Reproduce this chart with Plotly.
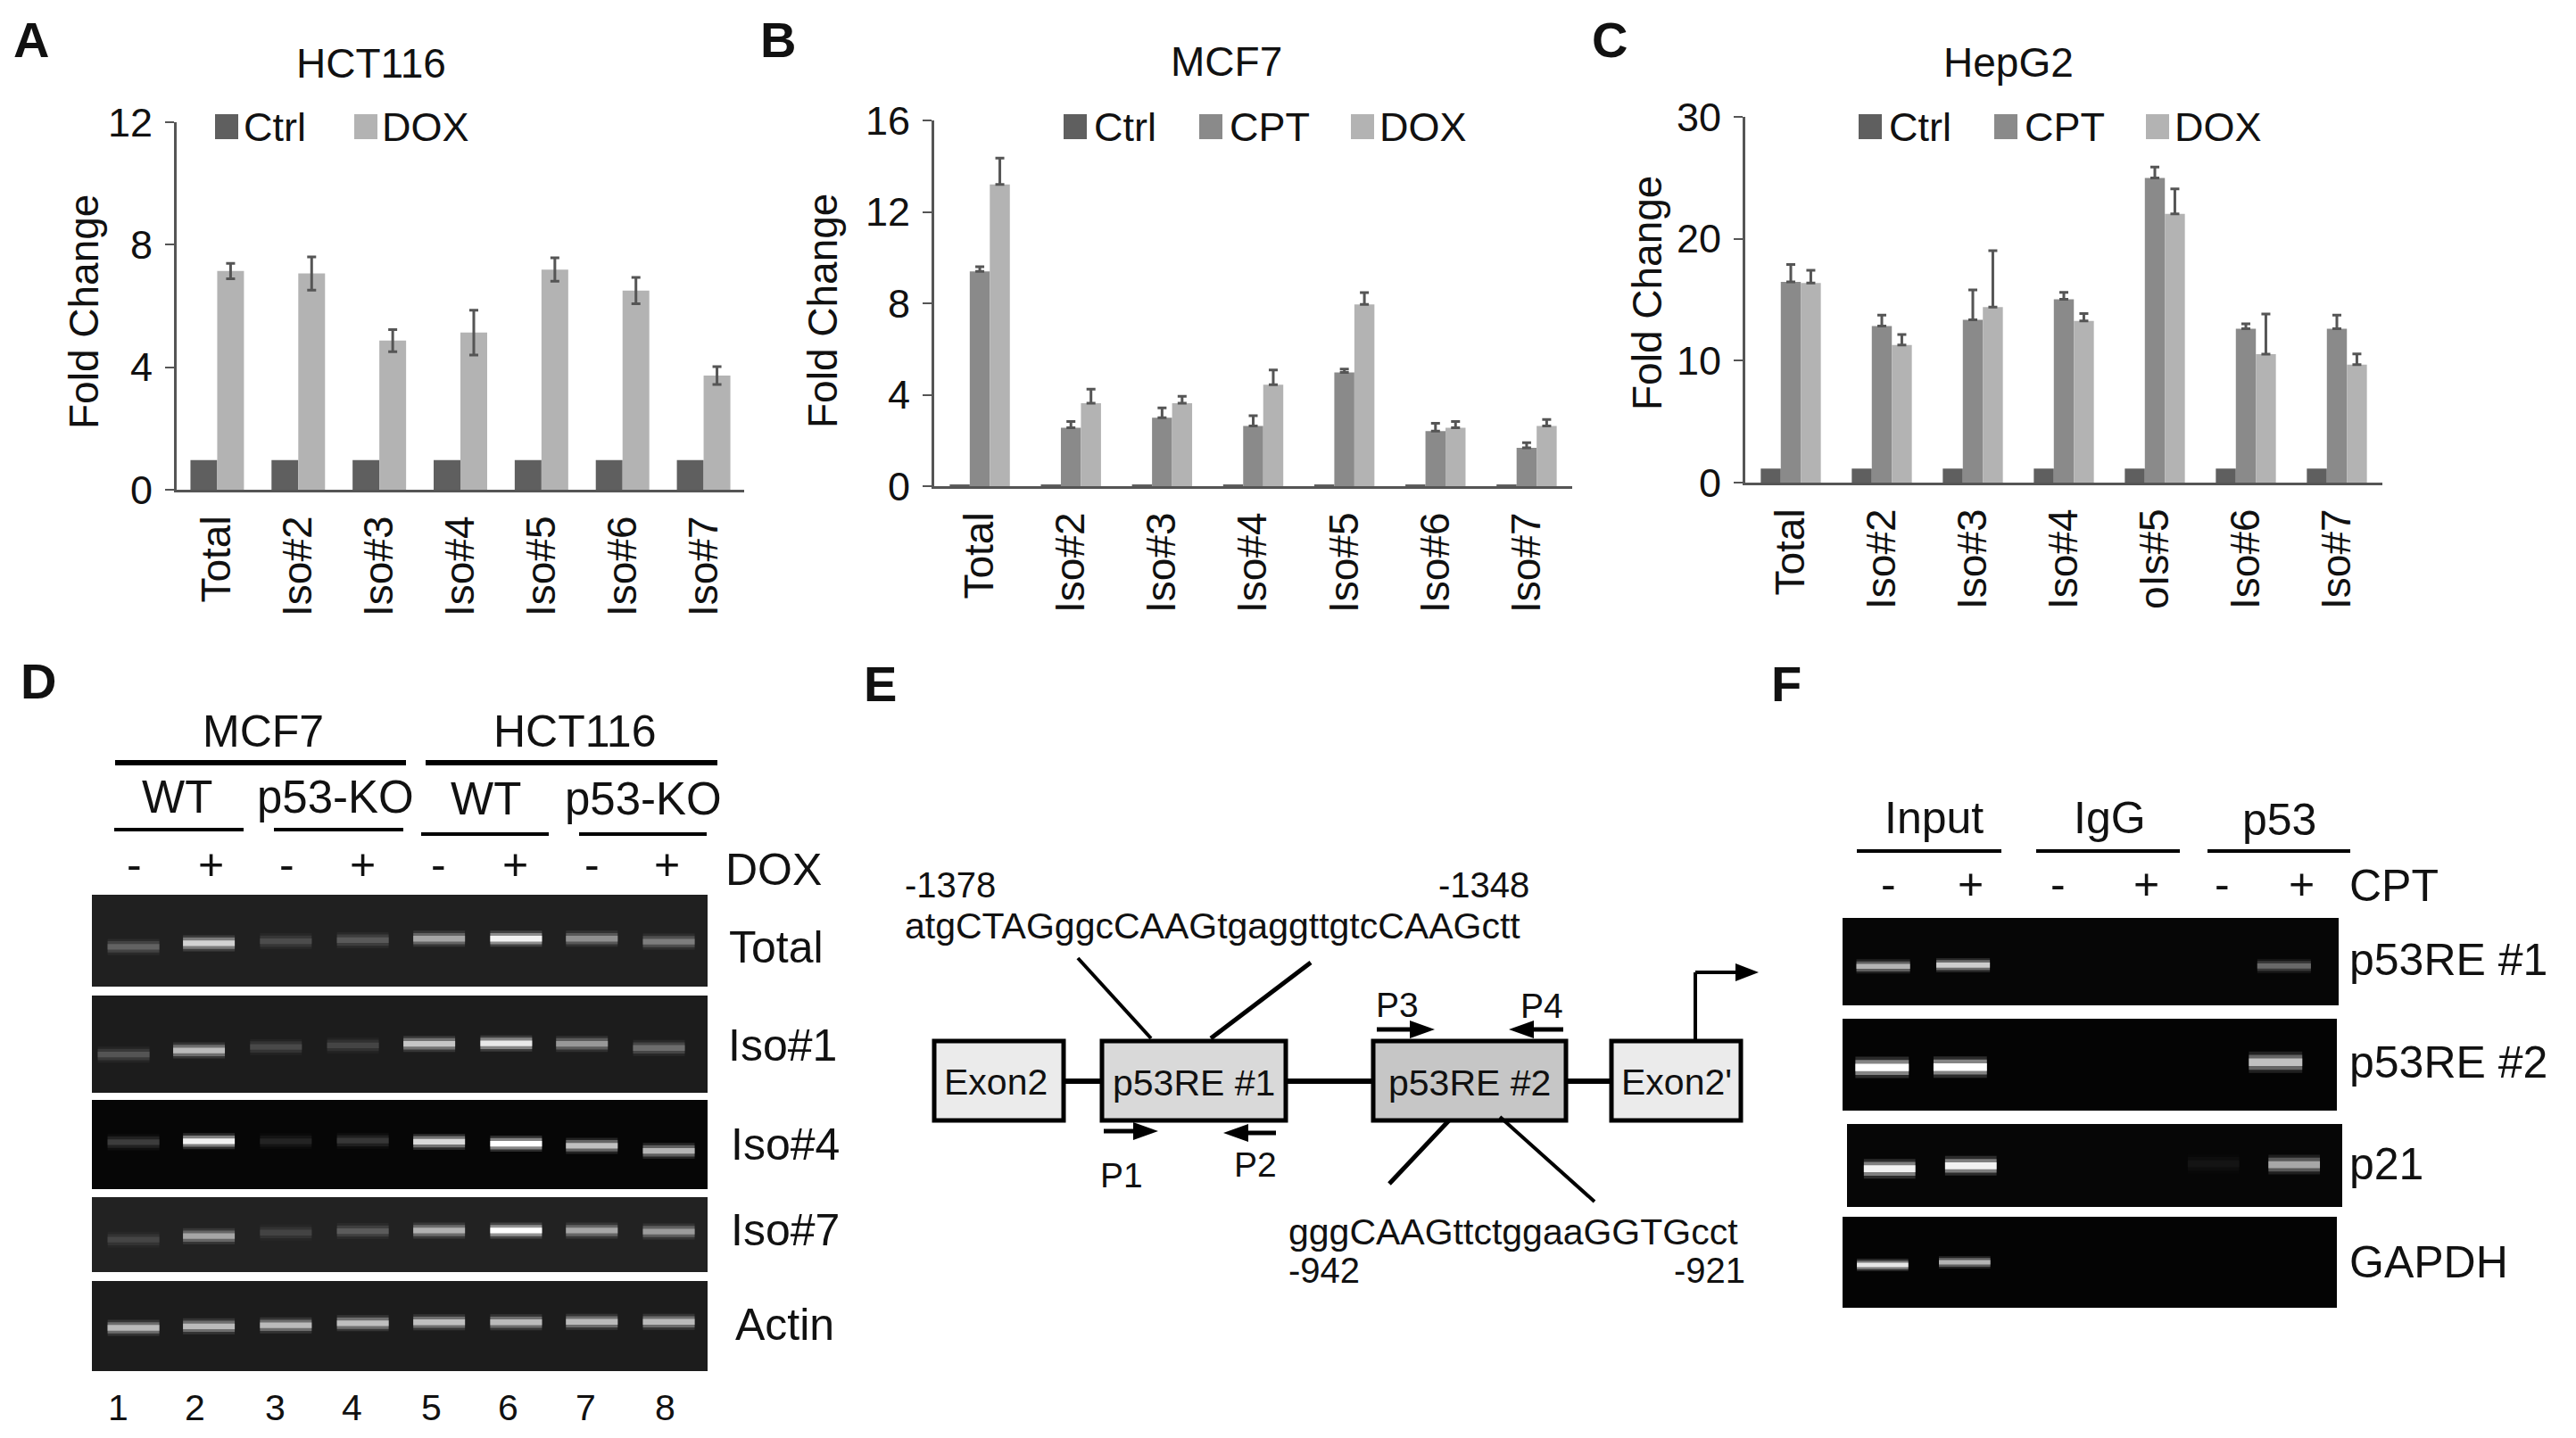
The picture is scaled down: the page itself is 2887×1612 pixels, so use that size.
import plotly.graph_objects as go

W, H = 2887, 1612
FONT = "Liberation Sans"

# ---------- bar chart data ----------
isoforms = ["Total", "Iso#2", "Iso#3", "Iso#4", "Iso#5", "Iso#6", "Iso#7"]
isoforms_c = ["Total", "Iso#2", "Iso#3", "Iso#4", "oIs#5", "Iso#6", "Iso#7"]

a_ctrl = [0.97, 0.97, 0.97, 0.97, 0.97, 0.97, 0.97]
a_dox = [7.14, 7.06, 4.87, 5.13, 7.19, 6.50, 3.73]
a_dox_err = [0.25, 0.54, 0.36, 0.73, 0.38, 0.43, 0.29]

b_ctrl = [0.07, 0.07, 0.07, 0.07, 0.07, 0.07, 0.07]
b_cpt = [9.40, 2.56, 3.00, 2.63, 4.98, 2.41, 1.68]
b_cpt_err = [0.20, 0.27, 0.42, 0.45, 0.14, 0.34, 0.22]
b_dox = [13.20, 3.63, 3.63, 4.44, 7.95, 2.56, 2.63]
b_dox_err = [1.15, 0.61, 0.30, 0.64, 0.52, 0.27, 0.29]

c_ctrl = [1.15, 1.15, 1.15, 1.15, 1.15, 1.15, 1.15]
c_cpt = [16.46, 12.84, 13.35, 15.03, 24.99, 12.62, 12.62]
c_cpt_err = [1.43, 0.89, 2.45, 0.57, 0.89, 0.41, 1.11]
c_dox = [16.37, 11.29, 14.40, 13.26, 22.04, 10.53, 9.67]
c_dox_err = [1.04, 0.86, 4.63, 0.60, 2.06, 3.30, 0.89]

# ---------- gel data (band position in % of the gel, brightness 0-1) ----------
d_lanes = [6.75, 19.0, 31.5, 44.0, 56.4, 68.9, 81.2, 93.7]
d_total_y = [56.7, 52.8, 50.6, 49.4, 47.8, 47.8, 47.8, 51.0]
d_total_i = [0.30, 0.80, 0.20, 0.26, 0.60, 0.95, 0.50, 0.42]
d_iso1_y = [60.7, 56.5, 52.9, 51.3, 49.7, 49.2, 49.7, 53.9]
d_iso1_i = [0.25, 0.70, 0.20, 0.18, 0.75, 0.90, 0.55, 0.36]
d_iso4_y = [47.4, 46.3, 46.3, 45.7, 46.9, 49.1, 51.4, 57.1]
d_iso4_i = [0.22, 0.95, 0.12, 0.20, 0.85, 1.00, 0.75, 0.70]
d_iso7_y = [56.8, 52.0, 47.3, 45.3, 44.6, 44.6, 44.6, 45.9]
d_iso7_i = [0.16, 0.60, 0.15, 0.26, 0.65, 1.00, 0.60, 0.55]
d_actin_y = [52.0, 50.3, 49.2, 46.9, 45.8, 45.8, 45.3, 45.3]
d_actin_i = [0.70, 0.70, 0.70, 0.72, 0.72, 0.70, 0.70, 0.70]

f_re1_x, f_re1_y, f_re1_i = [8.2, 24.3, 89.0], [55.4, 54.0, 55.0], [0.70, 0.80, 0.40]
f_re2_x, f_re2_y, f_re2_i = [8.0, 23.8, 87.6], [53.0, 52.6, 47.4], [1.00, 1.00, 0.75]
f_p21_x, f_p21_y, f_p21_i = [8.6, 25.0, 74.0, 90.3], [54.0, 50.4, 48.0, 49.0], [0.95, 0.95, 0.06, 0.65]
f_gapdh_x, f_gapdh_y, f_gapdh_i = [8.1, 24.7], [53.0, 50.0], [0.90, 0.70]

# ---------- styles ----------
CTRL, CPT, DOX = "#5f5f5f", "#8a8a8a", "#b3b3b3"
AXC = "#555555"
TXT = "#111111"

fig = go.Figure()
annotations, shapes = [], []
layout = {}


def px(x):
    return x / W


def py(y):
    return 1 - y / H


def T(text, x, y, size=48, anchor="center", bold=False, angle=0):
    s = f"<b>{text}</b>" if bold else text
    annotations.append(dict(text=s, x=px(x), y=py(y), xref="paper", yref="paper",
                            xanchor=anchor, yanchor="middle", showarrow=False, textangle=angle,
                            font=dict(family=FONT, size=size, color=TXT)))


def L(x0, y0, x1, y1, w=4, color="#000000"):
    shapes.append(dict(type="line", xref="paper", yref="paper", x0=px(x0), y0=py(y0), x1=px(x1), y1=py(y1),
                       line=dict(color=color, width=w), layer="above"))


def R(x0, y0, x1, y1, fill, lw=0, lc="#000000", layer="above"):
    shapes.append(dict(type="rect", xref="paper", yref="paper", x0=px(x0), y0=py(y0), x1=px(x1), y1=py(y1),
                       fillcolor=fill, line=dict(color=lc, width=lw), layer=layer))


def TRI(pts, fill="#000000"):
    path = "M" + " L".join(f"{px(a):.6f},{py(b):.6f}" for a, b in pts) + " Z"
    shapes.append(dict(type="path", xref="paper", yref="paper", path=path, fillcolor=fill,
                       line=dict(width=0), layer="above"))


def bar_panel(n, box, ymax, dtick, cats, series):
    x0, y0, x1, y1 = box
    for name, vals, err, col in series:
        e = None
        if err is not None:
            sym, arr = err
            e = dict(type="data", array=arr, symmetric=True, visible=True, color=AXC, thickness=3, width=5)
            if not sym:
                e = dict(type="data", array=arr, symmetric=False, arrayminus=[0] * len(arr), visible=True,
                         color=AXC, thickness=3, width=5)
        fig.add_trace(go.Bar(x=cats, y=vals, name=name, marker=dict(color=col, line=dict(width=0)), error_y=e,
                             xaxis=f"x{n}", yaxis=f"y{n}", showlegend=False, offsetgroup=name))
    layout[f"xaxis{n}"] = dict(domain=[px(x0), px(x1)], anchor=f"y{n}", type="category", showline=True,
                               linecolor=AXC, linewidth=3, ticks="", tickangle=-90, ticklabelstandoff=8,
                               tickfont=dict(family=FONT, size=46, color=TXT), showgrid=False, zeroline=False,
                               automargin=False, fixedrange=True)
    layout[f"yaxis{n}"] = dict(domain=[py(y1), py(y0)], anchor=f"x{n}", range=[0, ymax], dtick=dtick, showline=True,
                               linecolor=AXC, linewidth=3, ticks="outside", ticklen=10, tickwidth=2, tickcolor=AXC,
                               ticklabelstandoff=5, tickfont=dict(family=FONT, size=45, color=TXT),
                               showgrid=False, zeroline=False, automargin=False, fixedrange=True)


def legend_row(items, y=142):
    for sx, tx, label, col in items:
        R(sx, y - 14, sx + 26, y + 14, col)
        T(label, tx - 3, y, 45, "left")


bar_panel(1, (198, 137, 834, 549), 12, 4, isoforms,
          [("Ctrl", a_ctrl, None, CTRL), ("DOX", a_dox, (True, a_dox_err), DOX)])
bar_panel(2, (1047, 135, 1762, 545), 16, 4, isoforms,
          [("Ctrl", b_ctrl, None, CTRL), ("CPT", b_cpt, (False, b_cpt_err), CPT),
           ("DOX", b_dox, (False, b_dox_err), DOX)])
bar_panel(3, (1956, 131, 2670, 541), 30, 10, isoforms_c,
          [("Ctrl", c_ctrl, None, CTRL), ("CPT", c_cpt, (False, c_cpt_err), CPT),
           ("DOX", c_dox, (False, c_dox_err), DOX)])

legend_row([(241, 274, "Ctrl", CTRL), (397, 429, "DOX", DOX)])
legend_row([(1192, 1227, "Ctrl", CTRL), (1344, 1379, "CPT", CPT), (1514, 1547, "DOX", DOX)])
legend_row([(2083, 2118, "Ctrl", CTRL), (2235, 2270, "CPT", CPT), (2405, 2438, "DOX", DOX)])

T("HCT116", 416, 71, 46)
T("MCF7", 1374, 69, 46)
T("HepG2", 2251, 70, 46)
T("Fold Change", 94, 350, 46, angle=-90)
T("Fold Change", 922, 349, 46, angle=-90)
T("Fold Change", 1846, 328, 46, angle=-90)

for letter, x, y in [("A", 35, 45), ("B", 872, 45), ("C", 1804, 44), ("D", 43, 763), ("E", 986, 766), ("F", 2002, 766)]:
    T(letter, x, y, 56, bold=True)


# ---------- gels ----------
def gray(v):
    v = int(max(0, min(255, v)))
    return f"rgb({v},{v},{v})"


gel_n = [10]


def gel(box, bg, xs, ys, ints, hw, t):
    n = gel_n[0]
    gel_n[0] += 1
    x0, y0, x1, y1 = box
    R(x0, y0, x1, y1, gray(bg), layer="below")
    for c, yb, i in zip(xs, ys, ints):
        peak = bg + (255 - bg) * i
        for width, frac, op in [(t * 2.0, 0.45, 0.35), (t * 1.4, 0.75, 0.6), (t * 0.7, 1.0, 1.0)]:
            fig.add_trace(go.Scatter(x=[c - hw, c + hw], y=[yb, yb], mode="lines", showlegend=False,
                                     hoverinfo="skip", opacity=op,
                                     line=dict(color=gray(bg + (peak - bg) * frac), width=width),
                                     xaxis=f"x{n}", yaxis=f"y{n}"))
    layout[f"xaxis{n}"] = dict(domain=[px(x0), px(x1)], range=[0, 100], visible=False, anchor=f"y{n}", fixedrange=True)
    layout[f"yaxis{n}"] = dict(domain=[py(y1), py(y0)], range=[100, 0], visible=False, anchor=f"x{n}", fixedrange=True)


iso1_lanes = [v - 1.6 for v in d_lanes]
gel((103, 1003, 793, 1106), 32, d_lanes, d_total_y, d_total_i, 4.2, 9)
gel((103, 1116, 793, 1225), 28, iso1_lanes, d_iso1_y, d_iso1_i, 4.2, 9)
gel((103, 1233, 793, 1333), 6, d_lanes, d_iso4_y, d_iso4_i, 4.2, 9)
gel((103, 1342, 793, 1426), 34, d_lanes, d_iso7_y, d_iso7_i, 4.2, 9)
gel((103, 1436, 793, 1537), 28, d_lanes, d_actin_y, d_actin_i, 4.2, 9)

gel((2065, 1029, 2621, 1127), 6, f_re1_x, f_re1_y, f_re1_i, 5.4, 8)
gel((2065, 1142, 2619, 1245), 4, f_re2_x, f_re2_y, f_re2_i, 5.4, 12)
gel((2070, 1260, 2625, 1353), 6, f_p21_x, f_p21_y, f_p21_i, 5.2, 11)
gel((2065, 1364, 2619, 1466), 4, f_gapdh_x, f_gapdh_y, f_gapdh_i, 5.2, 7)

# panel D labels
T("MCF7", 295, 820, 50)
T("HCT116", 644, 820, 50)
L(129, 855, 455, 855, 6)
L(477, 855, 804, 855, 6)
for t, x, y in [("WT", 198, 893), ("p53-KO", 376, 894), ("WT", 544, 895), ("p53-KO", 721, 895)]:
    T(t, x, y, 51)
for a, b, y in [(128, 273, 930), (307, 452, 930), (472, 615, 935), (649, 792, 935)]:
    L(a, y, b, y, 4)
for s, x in zip("-+-+-+-+", [150, 236, 321, 407, 491, 577, 663, 747]):
    T(s, x, 969, 50)
T("DOX", 811, 975, 50, "left")
T("Total", 815, 1062, 50, "left")
T("Iso#1", 814, 1172, 50, "left")
T("Iso#4", 817, 1283, 50, "left")
T("Iso#7", 817, 1379, 50, "left")
T("Actin", 822, 1485, 50, "left")
for s, x in zip("12345678", [132, 219, 308, 394, 483, 569, 656, 745]):
    T(s, x, 1578, 41)

# panel E schematic
for a, b in [(1192, 1235), (1441, 1539), (1755, 1806)]:
    L(a, 1212, b, 1212, 6)
R(1047, 1167, 1192, 1256, "#ebebeb", 5)
R(1235, 1167, 1441, 1256, "#d9d9d9", 5)
R(1539, 1167, 1755, 1256, "#c6c6c6", 5)
R(1806, 1167, 1951, 1256, "#ebebeb", 5)
T("Exon2", 1116, 1213, 41)
T("p53RE #1", 1338, 1214, 41)
T("p53RE #2", 1647, 1214, 41)
T("Exon2'", 1879, 1213, 41)
L(1208, 1074, 1290, 1164, 4)
L(1469, 1079, 1357, 1164, 5)
L(1624, 1256, 1557, 1327, 5)
L(1681, 1252, 1787, 1347, 4)
L(1900, 1166, 1900, 1090, 4)
L(1900, 1090, 1950, 1090, 4)
TRI([(1945, 1080), (1971, 1090), (1945, 1100)])


def primer(x0, x1, y):
    d = 1 if x1 > x0 else -1
    L(x0, y, x1 - d * 24, y, 5)
    TRI([(x1 - d * 28, y - 10), (x1, y), (x1 - d * 28, y + 10)])


primer(1237, 1298, 1268)
primer(1430, 1371, 1270)
primer(1543, 1608, 1154)
primer(1752, 1691, 1154)
T("P1", 1257, 1317, 39)
T("P2", 1407, 1305, 39)
T("P3", 1566, 1126, 39)
T("P4", 1728, 1127, 39)
T("-1378", 1012, 992, 40, "left")
T("-1348", 1716, 992, 40, "right")
T("atgCTAGggcCAAGtgaggttgtcCAAGctt", 1012, 1038, 41, "left")
T("gggCAAGttctggaaGGTGcct", 1442, 1381, 41, "left")
T("-942", 1442, 1424, 40, "left")
T("-921", 1958, 1424, 40, "right")

# panel F labels
T("Input", 2167, 917, 50)
T("IgG", 2364, 917, 50)
T("p53", 2554, 919, 50)
L(2081, 954, 2243, 954, 4)
L(2282, 954, 2443, 954, 4)
L(2474, 954, 2634, 954, 4)
for s, x in zip("-+-+-+", [2116, 2208, 2306, 2405, 2490, 2579]):
    T(s, x, 991, 50)
T("CPT", 2631, 993, 50, "left")
T("p53RE #1", 2631, 1076, 50, "left")
T("p53RE #2", 2631, 1191, 50, "left")
T("p21", 2631, 1305, 50, "left")
T("GAPDH", 2631, 1415, 50, "left")

fig.update_layout(width=W, height=H, margin=dict(l=0, r=0, t=0, b=0, autoexpand=False), paper_bgcolor="white",
                  plot_bgcolor="white", barmode="group", bargap=0.34, bargroupgap=0, showlegend=False,
                  font=dict(family=FONT, color=TXT), annotations=annotations, shapes=shapes, **layout)

fig.write_html("out.html", config=dict(displayModeBar=False),
               post_script="document.body.style.margin='0';document.documentElement.style.overflow='hidden';")
